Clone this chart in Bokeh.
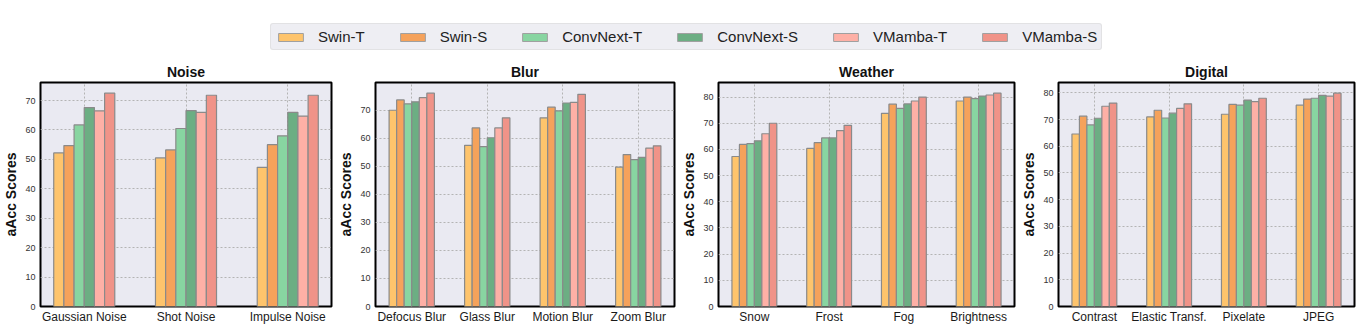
from bokeh.plotting import figure
from bokeh.models import Range1d, FixedTicker, ColumnDataSource, Legend, LegendItem
from bokeh.layouts import column, row
from bokeh.embed import file_html
from bokeh.resources import INLINE

models = ["Swin-T", "Swin-S", "ConvNext-T", "ConvNext-S", "VMamba-T", "VMamba-S"]
colors = ["#FEC46C", "#F5A25B", "#88D5A1", "#6CAE83", "#FEB0A6", "#F09388"]

noise_cats = ["Gaussian Noise", "Shot Noise", "Impulse Noise"]
noise_swin_t = [52.2, 50.5, 47.3]
noise_swin_s = [54.7, 53.2, 55.0]
noise_convnext_t = [61.7, 60.5, 58.0]
noise_convnext_s = [67.6, 66.6, 66.0]
noise_vmamba_t = [66.5, 66.0, 64.7]
noise_vmamba_s = [72.5, 71.8, 71.8]

blur_cats = ["Defocus Blur", "Glass Blur", "Motion Blur", "Zoom Blur"]
blur_swin_t = [70.0, 57.5, 67.3, 49.7]
blur_swin_s = [73.7, 63.7, 71.1, 54.2]
blur_convnext_t = [72.3, 57.0, 69.8, 52.4]
blur_convnext_s = [73.0, 60.2, 72.6, 53.2]
blur_vmamba_t = [74.5, 63.7, 72.8, 56.5]
blur_vmamba_s = [76.1, 67.3, 75.7, 57.3]

weather_cats = ["Snow", "Frost", "Fog", "Brightness"]
weather_swin_t = [57.3, 60.4, 73.8, 78.5]
weather_swin_s = [61.9, 62.6, 77.3, 80.0]
weather_convnext_t = [62.2, 64.4, 75.7, 79.4]
weather_convnext_s = [63.3, 64.4, 77.4, 80.4]
weather_vmamba_t = [66.0, 67.2, 78.5, 80.8]
weather_vmamba_s = [70.0, 69.2, 80.0, 81.5]

digital_cats = ["Contrast", "Elastic Transf.", "Pixelate", "JPEG"]
digital_swin_t = [64.6, 71.0, 72.0, 75.4]
digital_swin_s = [71.3, 73.5, 75.7, 77.7]
digital_convnext_t = [68.0, 70.6, 75.4, 78.0]
digital_convnext_s = [70.5, 72.4, 77.3, 79.1]
digital_vmamba_t = [75.0, 74.2, 76.7, 78.8]
digital_vmamba_s = [76.2, 75.9, 78.0, 79.9]

FONT = "Liberation Sans"
PANEL_H = 268


def panel(title, cats, series, width, border_right):
    n = len(cats)
    span = (n - 1) + 0.6
    pad = 0.05 * span
    top = max(max(v) for v in series) * 1.05
    p = figure(width=width, height=PANEL_H, title=title,
               x_range=Range1d(-0.3 - pad, n - 1 + 0.3 + pad),
               y_range=Range1d(0, top),
               output_backend="svg", toolbar_location=None,
               min_border_left=34, min_border_right=border_right,
               min_border_top=24, min_border_bottom=16)
    for i, (c, vals) in enumerate(zip(colors, series)):
        off = -0.25 + 0.1 * i
        src = ColumnDataSource(dict(x=[k + off for k in range(n)], top=vals))
        p.vbar(x="x", top="top", width=0.1, bottom=0, source=src,
               fill_color=c, line_color="#8a8a8a", line_width=1.2)
    p.background_fill_color = "#EAEAF2"
    p.border_fill_color = "white"
    p.outline_line_color = "black"
    p.outline_line_width = 2
    p.xgrid.ticker = FixedTicker(ticks=list(range(n)))
    p.xaxis.ticker = FixedTicker(ticks=list(range(n)))
    p.xaxis.major_label_overrides = {i: c for i, c in enumerate(cats)}
    yt = list(range(0, int(top) + 1, 10))
    p.yaxis.ticker = FixedTicker(ticks=yt)
    p.ygrid.ticker = FixedTicker(ticks=yt)
    p.grid.grid_line_color = "#b4b4b4"
    p.grid.grid_line_dash = "2 2"
    p.grid.grid_line_width = 1
    p.axis.axis_line_color = None
    p.axis.major_tick_line_color = None
    p.axis.minor_tick_line_color = None
    p.axis.major_tick_out = 0
    p.axis.major_tick_in = 0
    p.xaxis.major_label_text_font = FONT
    p.xaxis.major_label_text_font_size = "12px"
    p.xaxis.major_label_text_color = "#1a1a1a"
    p.xaxis.major_label_standoff = 3
    p.yaxis.major_label_text_font = FONT
    p.yaxis.major_label_text_font_size = "9px"
    p.yaxis.major_label_text_color = "#333333"
    p.yaxis.major_label_standoff = 5
    p.yaxis.axis_label = "aAcc Scores"
    p.yaxis.axis_label_text_font = FONT
    p.yaxis.axis_label_text_font_size = "14px"
    p.yaxis.axis_label_text_font_style = "bold"
    p.yaxis.axis_label_text_color = "#111111"
    p.yaxis.axis_label_standoff = 3
    p.title.align = "center"
    p.title.text_font = FONT
    p.title.text_font_size = "14px"
    p.title.text_font_style = "bold"
    p.title.text_color = "#111111"
    p.title.standoff = 5
    return p


p1 = panel("Noise", noise_cats,
           [noise_swin_t, noise_swin_s, noise_convnext_t, noise_convnext_s, noise_vmamba_t, noise_vmamba_s],
           335, 4)
p2 = panel("Blur", blur_cats,
           [blur_swin_t, blur_swin_s, blur_convnext_t, blur_convnext_s, blur_vmamba_t, blur_vmamba_s],
           343, 4)
p3 = panel("Weather", weather_cats,
           [weather_swin_t, weather_swin_s, weather_convnext_t, weather_convnext_s, weather_vmamba_t, weather_vmamba_s],
           340, 4)
p4 = panel("Digital", digital_cats,
           [digital_swin_t, digital_swin_s, digital_convnext_t, digital_convnext_s, digital_vmamba_t, digital_vmamba_s],
           338, 2)

# legend strip (proxy bars lie outside the visible range; only their legend swatches show)
lf = figure(width=1356, height=58, x_range=Range1d(0, 1), y_range=Range1d(0, 1),
            x_axis_type=None, y_axis_type=None, min_border=0,
            output_backend="svg", toolbar_location=None)
lf.grid.visible = False
lf.outline_line_color = None
lf.background_fill_color = "white"
rends = []
for c in colors:
    src = ColumnDataSource(dict(x=[10.0], top=[1.0]))
    rends.append(lf.vbar(x="x", top="top", width=0.1, source=src,
                         fill_color=c, line_color="#a0a0a0", line_width=1))
legend = Legend(items=[LegendItem(label=m, renderers=[r]) for m, r in zip(models, rends)],
                orientation="horizontal", location=(270, 8))
legend.glyph_width = 31
legend.glyph_height = 10
legend.label_standoff = 12
legend.spacing = 32
legend.padding = 4
legend.margin = 0
legend.label_text_font = FONT
legend.label_text_font_size = "15px"
legend.label_text_color = "#222222"
legend.background_fill_color = "#EEEEF3"
legend.background_fill_alpha = 1
legend.border_line_color = "#d6d6d6"
legend.border_line_width = 1
legend.border_radius = 3
lf.add_layout(legend)

layout = column(lf, row(p1, p2, p3, p4))
open("out.html", "w").write(file_html(layout, INLINE))
